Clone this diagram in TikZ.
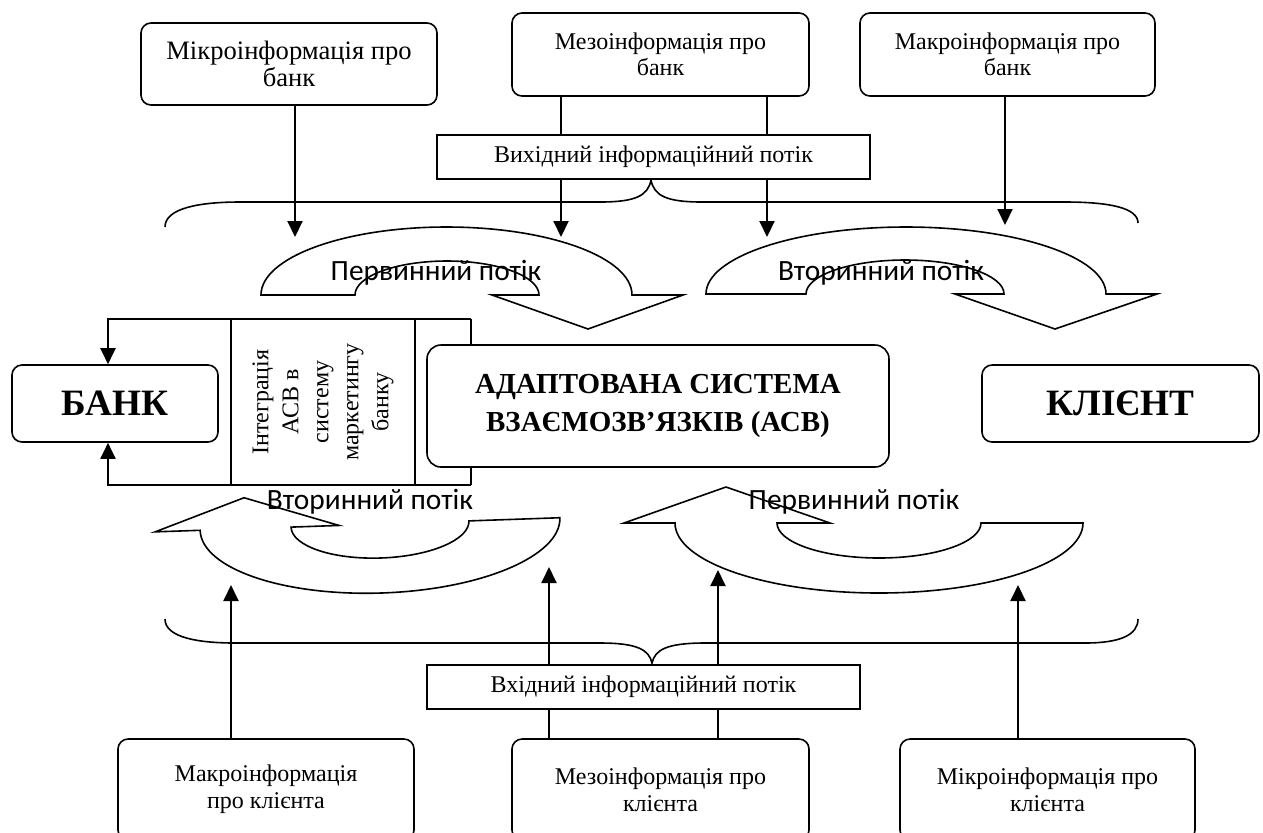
\documentclass[tikz,border=0pt]{standalone}
\usepackage{fontspec}
\setmainfont{Liberation Serif}
\newfontfamily\flowfont{Carlito}
\usetikzlibrary{arrows.meta}

\begin{document}
\begin{tikzpicture}[x=0.5pt,y=-0.5pt,
    infobox/.style={draw,rounded corners=5pt,line width=0.8pt,align=center,
      inner sep=0pt,font=\fontsize{12}{13}\selectfont},
    streambox/.style={draw,line width=0.8pt,inner sep=0pt,fill=white,
      font=\fontsize{12}{13}\selectfont},
    mainbox/.style={draw,rounded corners=6pt,line width=0.8pt,align=center,
      inner sep=0pt,fill=white,font=\bfseries\fontsize{18.6}{22}\selectfont},
    arr/.style={line width=1pt,-{Triangle[length=8pt,width=7.5pt]}},
    flowarrow/.style={draw,line width=0.8pt,fill=white},
    flowlabel/.style={inner sep=0pt,font=\flowfont\fontsize{14.7}{16}\selectfont}]

    \useasboundingbox (0,0) rectangle (1263,832);

    % braces
    \draw[line width=0.8pt] (165,227) .. controls (165,208) and (200,202) .. (240,202) -- (600,202)
        .. controls (635,202) and (648,196) .. (651,180) .. controls (654,196) and (667,202) .. (702,202)
        -- (1065,202) .. controls (1110,202) and (1138,208) .. (1138,223);
    \draw[line width=0.8pt] (165,619) .. controls (165,638) and (200,643) .. (235,643) -- (600,643)
        .. controls (638,643) and (649,650) .. (652,663) .. controls (655,650) and (666,643) .. (705,643)
        -- (1085,643) .. controls (1120,643) and (1138,635) .. (1138,619);

    % curved flows
    \draw[flowarrow] (261,295) arc[start angle=180,end angle=360,x radius=185.5,y radius=68]
        -- (683,295) -- (588,329) -- (492,295) -- (539,295)
        arc[start angle=0,end angle=-180,x radius=92,y radius=34] -- cycle;
    \draw[flowarrow] (706,294) arc[start angle=180,end angle=360,x radius=200,y radius=67]
        -- (1157,294) -- (1055,329) -- (955,294) -- (1004,294)
        arc[start angle=0,end angle=-180,x radius=99,y radius=34] -- cycle;
    \draw[flowarrow,rotate around={2:(380,524)}] (200,524) arc[start angle=180,end angle=0,x radius=180,y radius=69]
        -- (469,524) arc[start angle=0,end angle=180,x radius=89,y radius=34]
        -- (339,524) -- (245,493) -- (155,524) -- cycle;
    \draw[flowarrow] (675,523) arc[start angle=180,end angle=0,x radius=204,y radius=70]
        -- (981,523) arc[start angle=0,end angle=180,x radius=102,y radius=35]
        -- (830,523) -- (726,487) -- (624,523) -- cycle;

    \node[flowlabel] (prim1) at (436,273) {Первинний потік};
    \node[flowlabel] (sec1) at (881,273) {Вторинний потік};
    \node[flowlabel] (sec2) at (370,502) {Вторинний потік};
    \node[flowlabel] (prim2) at (854,502) {Первинний потік};

    % information sources
    \node[infobox,minimum width=148pt,minimum height=41pt,font=\fontsize{13.3}{13.5}\selectfont]
        (microB) at (289,64) {Мікроінформація про\\банк};
    \node[infobox,minimum width=148.5pt,minimum height=41.5pt] (mesoB) at (660.5,54.5) {Мезоінформація про\\банк};
    \node[infobox,minimum width=147.5pt,minimum height=41.5pt] (macroB) at (1007.5,54.5) {Макроінформація про\\банк};
    \node[streambox,minimum width=216.5pt,minimum height=22pt] (outB) at (653.5,157) {Вихідний інформаційний потік};

    \node[infobox,minimum width=148pt,minimum height=50.5pt,font=\fontsize{12}{13.5}\selectfont]
        (macroC) at (266,789.5) {Макроінформація\\про клієнта};
    \node[infobox,minimum width=148.5pt,minimum height=50.5pt,font=\fontsize{12}{13.5}\selectfont]
        (mesoC) at (660.5,789.5) {Мезоінформація про\\клієнта};
    \node[infobox,minimum width=147.5pt,minimum height=50.5pt,font=\fontsize{12}{13.5}\selectfont]
        (microC) at (1047.5,789.5) {Мікроінформація про\\клієнта};
    \node[streambox,minimum width=216.5pt,minimum height=22pt] (inB) at (643.5,687) {Вхідний інформаційний потік};

    % arrow ends
    \coordinate (t1) at (295,237);
    \coordinate (t2) at (561,237);
    \coordinate (t3) at (767,237);
    \coordinate (t4) at (1005,225);
    \coordinate (b1) at (231,585);
    \coordinate (b2) at (549,567);
    \coordinate (b3) at (718,570);
    \coordinate (b4) at (1018,585);

    \draw[arr] (microB.south -| t1) -- (t1);
    \draw[line width=1pt] (mesoB.south -| t2) -- (outB.north -| t2);
    \draw[line width=1pt] (mesoB.south -| t3) -- (outB.north -| t3);
    \draw[arr] (outB.south -| t2) -- (t2);
    \draw[arr] (outB.south -| t3) -- (t3);
    \draw[arr] (macroB.south -| t4) -- (t4);

    \draw[arr] (macroC.north -| b1) -- (b1);
    \draw[line width=1pt] (mesoC.north -| b2) -- (inB.south -| b2);
    \draw[line width=1pt] (mesoC.north -| b3) -- (inB.south -| b3);
    \draw[arr] (inB.north -| b2) -- (b2);
    \draw[arr] (inB.north -| b3) -- (b3);
    \draw[arr] (microC.north -| b4) -- (b4);

    % bank, integration, system, client
    \node[mainbox,minimum width=103pt,minimum height=38.5pt,rounded corners=5pt] (bank) at (115,403.5) {БАНК};
    \coordinate (ftl) at (108,319);
    \coordinate (ftr) at (471,319);
    \coordinate (fbl) at (108,485);
    \coordinate (fbr) at (471,485);
    \draw[arr] (ftr) -- (ftl) -- (bank.north -| ftl);
    \draw[arr] (fbr) -- (fbl) -- (bank.south -| fbl);
    \draw[line width=0.8pt] (ftr) -- (fbr);
    \node[draw,line width=0.8pt,rotate=90,minimum width=83pt,minimum height=92pt,inner sep=0pt,
        align=center,font=\fontsize{12}{15}\selectfont] (integ) at (323,402)
        {Інтеграція\\АСВ в\\систему\\маркетингу\\банку};
    \node[mainbox,minimum width=231pt,minimum height=61pt,rounded corners=7pt,
        font=\bfseries\fontsize{14.5}{19}\selectfont] (acb) at (658,406)
        {АДАПТОВАНА СИСТЕМА\\ВЗАЄМОЗВ’ЯЗКІВ (АСВ)};
    \node[mainbox,minimum width=138.5pt,minimum height=38.5pt,rounded corners=5pt] (client) at (1120.5,403.5) {КЛІЄНТ};

\end{tikzpicture}
\end{document}
